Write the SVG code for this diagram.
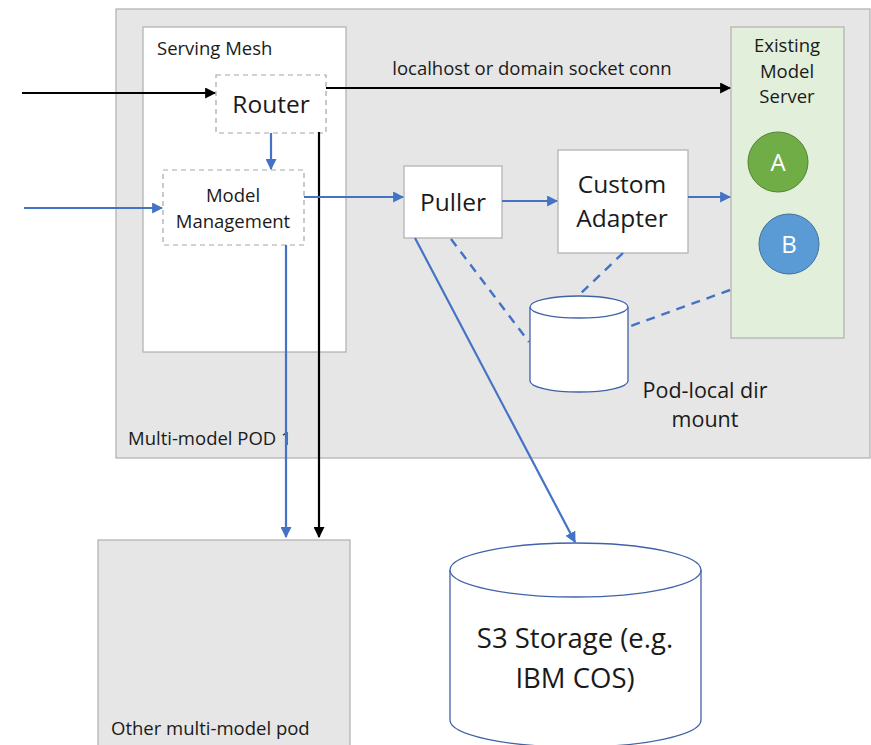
<svg xmlns="http://www.w3.org/2000/svg" width="871" height="745" viewBox="0 0 871 745">
  <defs>
    <style>
      text { font-family: "Open Sans", "Liberation Sans", sans-serif; fill: #1a1a1a; }
      .pod { fill: #e6e6e6; stroke: #b4b4b4; stroke-width: 1.3; }
      .box { fill: #ffffff; stroke: #b4b4b4; stroke-width: 1.3; }
      .dash { fill: #ffffff; stroke: #a6a6a6; stroke-width: 1.2; stroke-dasharray: 5 4; }
      .blue { fill: none; stroke: #4472c4; stroke-width: 2.2; }
      .black { fill: none; stroke: #000000; stroke-width: 2.2; }
      .bdash { fill: none; stroke: #4472c4; stroke-width: 2.4; stroke-dasharray: 9 7; }
      .cyl { fill: #ffffff; stroke: #3f62a8; stroke-width: 1.3; }
      .sm { font-size: 18.5px; }
      .md { font-size: 24.5px; }
    </style>
    <marker id="ab" viewBox="0 0 10 10" refX="9" refY="5" markerWidth="5" markerHeight="5" orient="auto">
      <path d="M0,0 L10,5 L0,10 z" fill="#4472c4"/>
    </marker>
    <marker id="ak" viewBox="0 0 10 10" refX="9" refY="5" markerWidth="5" markerHeight="5" orient="auto">
      <path d="M0,0 L10,5 L0,10 z" fill="#000000"/>
    </marker>
  </defs>

  <!-- pods -->
  <g id="pod1">
    <rect class="pod" x="116" y="9" width="754" height="449"/>
    <text class="sm" x="128" y="445">Multi-model POD 1</text>
  </g>
  <g id="other-pod">
    <rect class="pod" x="98" y="540" width="252" height="210"/>
    <text class="sm" x="111" y="735">Other multi-model pod</text>
  </g>

  <g id="serving-mesh">
    <rect class="box" x="143" y="27" width="203" height="325"/>
    <text class="sm" x="157" y="55">Serving Mesh</text>
  </g>

  <g id="router">
    <rect class="dash" x="216" y="75" width="110" height="58"/>
    <text class="md" x="271" y="113" text-anchor="middle">Router</text>
  </g>

  <g id="model-management">
    <rect class="dash" x="163" y="170" width="141" height="75"/>
    <text class="sm" x="233" y="202" text-anchor="middle">Model</text>
    <text class="sm" x="233" y="228" text-anchor="middle">Management</text>
  </g>

  <g id="puller">
    <rect class="box" x="404" y="166" width="98" height="72"/>
    <text class="md" x="453" y="211" text-anchor="middle">Puller</text>
  </g>

  <g id="custom-adapter">
    <rect class="box" x="558" y="150" width="130" height="103"/>
    <text class="md" x="622" y="193" text-anchor="middle">Custom</text>
    <text class="md" x="622" y="227" text-anchor="middle">Adapter</text>
  </g>

  <g id="model-server">
    <rect x="731" y="27" width="113" height="311" fill="#e2efda" stroke="#b4b4b4" stroke-width="1.3"/>
    <text class="sm" x="787" y="52" text-anchor="middle">Existing</text>
    <text class="sm" x="787" y="78" text-anchor="middle">Model</text>
    <text class="sm" x="787" y="103" text-anchor="middle">Server</text>
    <circle cx="778" cy="162" r="30" fill="#70ad47" stroke="#548235" stroke-width="1"/>
    <text x="778" y="171" font-size="24" text-anchor="middle" style="fill:#ffffff">A</text>
    <circle cx="789" cy="244" r="30" fill="#5b9bd5" stroke="#41719c" stroke-width="1"/>
    <text x="789" y="253" font-size="24" text-anchor="middle" style="fill:#ffffff">B</text>
  </g>

  <g id="pod-local-dir">
    <path class="cyl" d="M530,307 L530,381 A49,11 0 0 0 628,381 L628,307"/>
    <ellipse class="cyl" cx="579" cy="307" rx="49" ry="11"/>
    <text x="705" y="398" font-size="21.5" text-anchor="middle">Pod-local dir</text>
    <text x="705" y="427" font-size="21.5" text-anchor="middle">mount</text>
  </g>

  <g id="s3-storage">
    <path class="cyl" d="M450,570 L450,720 A125.5,27 0 0 0 701,720 L701,570"/>
    <ellipse class="cyl" cx="575.5" cy="570" rx="125.5" ry="27"/>
    <text x="575" y="648" font-size="27.5" text-anchor="middle">S3 Storage (e.g.</text>
    <text x="575" y="688" font-size="27.5" text-anchor="middle">IBM COS)</text>
  </g>

  <!-- connectors -->
  <g id="connectors">
    <line class="black" x1="22" y1="93" x2="215" y2="93" marker-end="url(#ak)"/>
    <line class="blue" x1="24" y1="208" x2="162" y2="208" marker-end="url(#ab)"/>
    <line class="blue" x1="271" y1="133" x2="271" y2="169" marker-end="url(#ab)"/>
    <line class="black" x1="326" y1="88" x2="730" y2="88" marker-end="url(#ak)"/>
    <text class="sm" x="532" y="75" text-anchor="middle">localhost or domain socket conn</text>
    <line class="black" x1="319" y1="132" x2="319" y2="537" marker-end="url(#ak)"/>
    <line class="blue" x1="286" y1="245" x2="286" y2="537" marker-end="url(#ab)"/>
    <line class="blue" x1="304" y1="197" x2="403" y2="197" marker-end="url(#ab)"/>
    <line class="blue" x1="502" y1="201" x2="557" y2="201" marker-end="url(#ab)"/>
    <line class="blue" x1="688" y1="197" x2="730" y2="197" marker-end="url(#ab)"/>
    <line class="blue" x1="415" y1="238" x2="575" y2="542" marker-end="url(#ab)"/>
    <line class="bdash" x1="451" y1="239" x2="529" y2="342"/>
    <line class="bdash" x1="623" y1="253" x2="578" y2="296"/>
    <line class="bdash" x1="730" y1="290" x2="628" y2="327"/>
  </g>
</svg>
